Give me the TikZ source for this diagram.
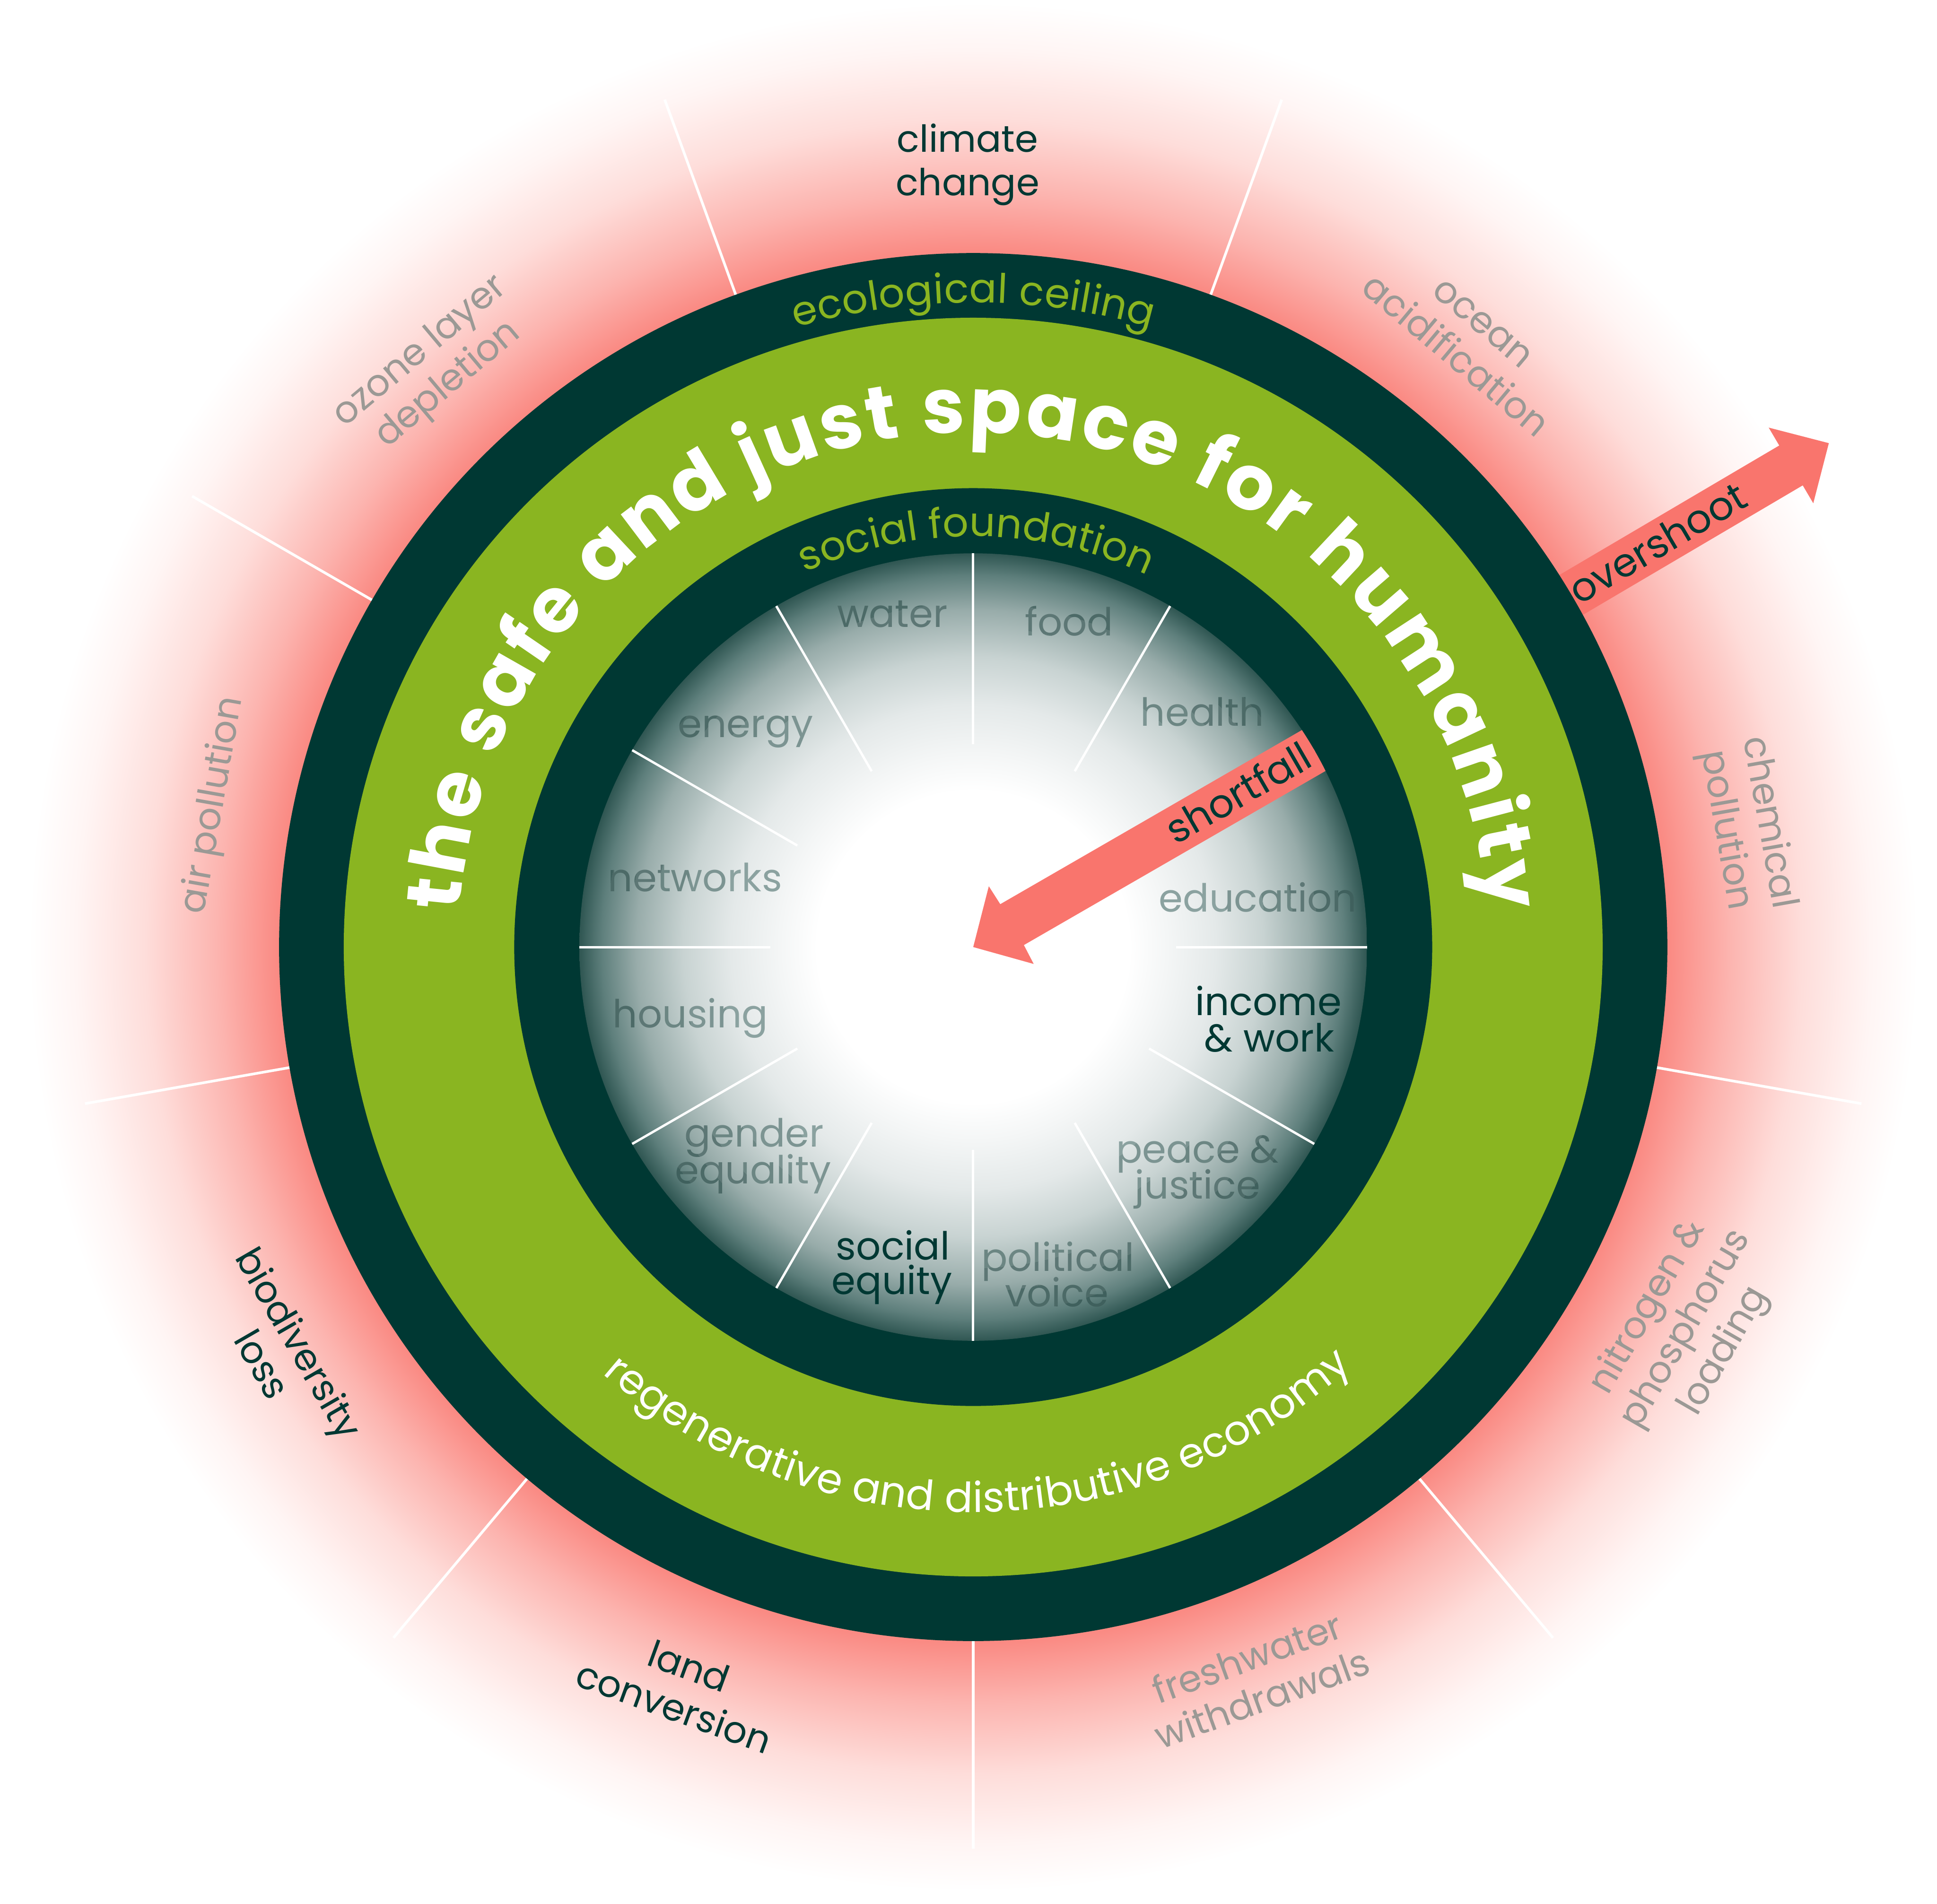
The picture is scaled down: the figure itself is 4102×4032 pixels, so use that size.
\documentclass[tikz,border=0pt]{standalone}
\usepackage{fontspec}
\setmainfont{Poppins}
\usetikzlibrary{decorations.text}
\definecolor{dk}{HTML}{003833}
\definecolor{gr}{HTML}{8AB521}
\definecolor{sal}{HTML}{F9756D}
\definecolor{gy}{HTML}{9B9995}
\definecolor{lA}{HTML}{8BA2A0}
\definecolor{lB}{HTML}{7C9492}
\definecolor{lC}{HTML}{6C8683}
\definecolor{lD}{HTML}{5D7775}
\definecolor{lE}{HTML}{4C6A67}
\definecolor{lF}{HTML}{3F605D}
\definecolor{gA}{HTML}{FA8A83}
\definecolor{gB}{HTML}{FCB4AF}
\definecolor{gC}{HTML}{FEDDDA}
\definecolor{gD}{HTML}{FFF5F4}
\definecolor{iA}{HTML}{F4F6F6}
\definecolor{iB}{HTML}{E4E9E9}
\definecolor{iC}{HTML}{C8D3D2}
\definecolor{iD}{HTML}{98ACAA}
\definecolor{iE}{HTML}{5E7F7C}
\definecolor{iF}{HTML}{2F5652}
\pgfdeclareradialshading{glowshade}{\pgfpointorigin}{color(0bp)=(gA); color(18.4bp)=(gA); color(20bp)=(gB); color(21.9bp)=(gC); color(23.75bp)=(gD); color(25bp)=(white); color(50bp)=(white)}
\pgfdeclareradialshading{diskshade}{\pgfpointorigin}{color(0bp)=(white); color(9.9bp)=(white); color(12.3bp)=(iA); color(15.4bp)=(iB); color(18.4bp)=(iC); color(21.4bp)=(iD); color(23.6bp)=(iE); color(25bp)=(iF); color(50bp)=(iF)}
% inner labels, drawn once per radial band in the colour of that band
\newcommand\innerlabs[2]{%
  \node[ilab, text=#2] (water#1) at (-171,678) {water};
  \node[ilab, text=#2] (food#1) at (203,660) {food};
  \node[ilab, text=#2] (health#1) at (485,468) {health};
  \node[ilab, text=#2] (education#1) at (603,75) {education};
  \node[ilab, text=#2] (peace#1) at (475,-457) {peace \&};
  \node[ilab, text=#2] (justice#1) at (475,-533) {justice};
  \node[ilab, text=#2] (political#1) at (179,-686) {political};
  \node[ilab, text=#2] (voice#1) at (177,-762) {voice};
  \node[ilab, text=#2] (gender#1) at (-464,-423) {gender};
  \node[ilab, text=#2] (equality#1) at (-466,-501) {equality};
  \node[ilab, text=#2] (housing#1) at (-599,-171) {housing};
  \node[ilab, text=#2] (networks#1) at (-589,118) {networks};
  \node[ilab, text=#2] (energy#1) at (-482,444) {energy};}
\begin{document}
\begin{tikzpicture}[x=0.25pt,y=0.25pt,
  oline/.style={white, line width=1.4pt},
  iline/.style={white, line width=1.25pt},
  olab/.style={anchor=base, inner sep=0pt, transform shape, font=\fontsize{19.7}{19.7}\selectfont},
  ilab/.style={anchor=base, inner sep=0pt, font=\fontsize{20.5}{20.5}\selectfont},
  dlab/.style={anchor=base, inner sep=0pt, font=\fontsize{20.5}{20.5}\selectfont, text=dk},
  arrtxt/.style={anchor=base, inner sep=0pt, transform shape, text=dk, font=\fontsize{21}{21}\selectfont}]
\useasboundingbox (-2061,-2026) rectangle (2041,2006);
\fill[white] (-2061,-2026) rectangle (2041,2006);
% glow
\shade[shading=glowshade] (0,0) circle[radius=2000];
% outer segment lines
\foreach \a in {30,70,...,350} \draw[oline] (\a:1465) -- (\a:1910);
% overshoot arrow
\begin{scope}[rotate=30.5]
  \fill[sal] (1350,49) -- (2010,49) -- (2010,93) -- (2103,0) -- (2010,-93) -- (2010,-49) -- (1350,-49) -- cycle;
  \node[arrtxt] (overshoot) at (1683,-28) {overshoot};
\end{scope}
% rings
\fill[dk] (0,0) circle[radius=1470];
\fill[gr] (0,0) circle[radius=1333];
\fill[dk] (0,0) circle[radius=972];
\shade[shading=diskshade] (0,0) circle[radius=834];
% inner segment lines
\foreach \a in {0,30,...,330} \draw[iline] (\a:430) -- (\a:834);
% shortfall arrow
\begin{scope}
  \clip (0,0) circle[radius=834];
  \begin{scope}[rotate=30]
    \fill[sal] (0,0) -- (93,95) -- (95,50) -- (900,50) -- (900,-50) -- (95,-50) -- (93,-95) -- cycle;
    \node[arrtxt] (shortfall) at (649,-28) {shortfall};
  \end{scope}
\end{scope}
% arc texts
\path[decorate, decoration={text along path, text align=fit to path, text color=gr,
  text={|\fontsize{21.5}{21.5}\selectfont|ecological ceiling}}]
  (106:1365) arc[start angle=106, end angle=74, radius=1365];
\path[decorate, decoration={text along path, text align=fit to path, text color=gr,
  text={|\fontsize{21.5}{21.5}\selectfont|social foundation}}]
  (114.2:870) arc[start angle=114.2, end angle=65.8, radius=870];
\path[decorate, decoration={text along path, text align=fit to path, text color=white,
  text={|\bfseries\fontsize{40.5}{40.5}\selectfont|the safe and just space for humanity}}]
  (176:1090) arc[start angle=176, end angle=4, radius=1090];
\path[decorate, decoration={text along path, text align=fit to path, text color=white,
  text={|\fontsize{22}{22}\selectfont|regenerative and distributive economy}}]
  (229:1197) arc[start angle=229, end angle=312, radius=1197];
% outer labels
\begin{scope}[shift={(-12,1684)}]
  \node[olab, text=dk] (cc1) at (0,0) {climate};
  \node[olab, text=dk] (cc2) at (0,-92) {change};
\end{scope}
\begin{scope}[shift={(1064,1304)}, rotate=-40]
  \node[olab, text=gy] (oa1) at (0,0) {ocean};
  \node[olab, text=gy] (oa2) at (0,-92) {acidification};
\end{scope}
\begin{scope}[shift={(1663,260)}, rotate=-80]
  \node[olab, text=gy] (cp1) at (0,0) {chemical};
  \node[olab, text=gy] (cp2) at (0,-92) {pollution};
\end{scope}
\begin{scope}[shift={(1447,-773)}, rotate=60]
  \node[olab, text=gy] (np1) at (0,0) {nitrogen \&};
  \node[olab, text=gy] (np2) at (0,-93) {phosphorus};
  \node[olab, text=gy] (np3) at (0,-186) {loading};
\end{scope}
\begin{scope}[shift={(590,-1532)}, rotate=20]
  \node[olab, text=gy] (fw1) at (0,0) {freshwater};
  \node[olab, text=gy] (fw2) at (0,-92) {withdrawals};
\end{scope}
\begin{scope}[shift={(-612,-1550)}, rotate=-20]
  \node[olab, text=dk] (lc1) at (0,0) {land};
  \node[olab, text=dk] (lc2) at (0,-92) {conversion};
\end{scope}
\begin{scope}[shift={(-1452,-853)}, rotate=-60]
  \node[olab, text=dk] (bl1) at (0,0) {biodiversity};
  \node[olab, text=dk] (bl2) at (0,-90) {loss};
\end{scope}
\begin{scope}[shift={(-1589,297)}, rotate=80]
  \node[olab, text=gy] (ap) at (0,0) {air pollution};
\end{scope}
\begin{scope}[shift={(-1158,1246)}, rotate=40]
  \node[olab, text=gy] (oz1) at (0,0) {ozone layer};
  \node[olab, text=gy] (oz2) at (0,-92) {depletion};
\end{scope}
% inner labels in radial colour bands
\begin{scope}
  \clip (0,0) circle[radius=540];
  \innerlabs{A}{lA}
\end{scope}
\begin{scope}[even odd rule]
  \clip (0,0) circle[radius=620] (0,0) circle[radius=540];
  \innerlabs{B}{lB}
\end{scope}
\begin{scope}[even odd rule]
  \clip (0,0) circle[radius=680] (0,0) circle[radius=620];
  \innerlabs{C}{lC}
\end{scope}
\begin{scope}[even odd rule]
  \clip (0,0) circle[radius=730] (0,0) circle[radius=680];
  \innerlabs{D}{lD}
\end{scope}
\begin{scope}[even odd rule]
  \clip (0,0) circle[radius=780] (0,0) circle[radius=730];
  \innerlabs{E}{lE}
\end{scope}
\begin{scope}[even odd rule]
  \clip (0,0) circle[radius=900] (0,0) circle[radius=780];
  \innerlabs{F}{lF}
\end{scope}
\node[dlab] (income) at (625,-145) {income};
\node[dlab] (work) at (627,-222) {\& work};
\node[dlab] (social) at (-170,-662) {social};
\node[dlab] (equity) at (-172,-736) {equity};
\end{tikzpicture}
\end{document}
